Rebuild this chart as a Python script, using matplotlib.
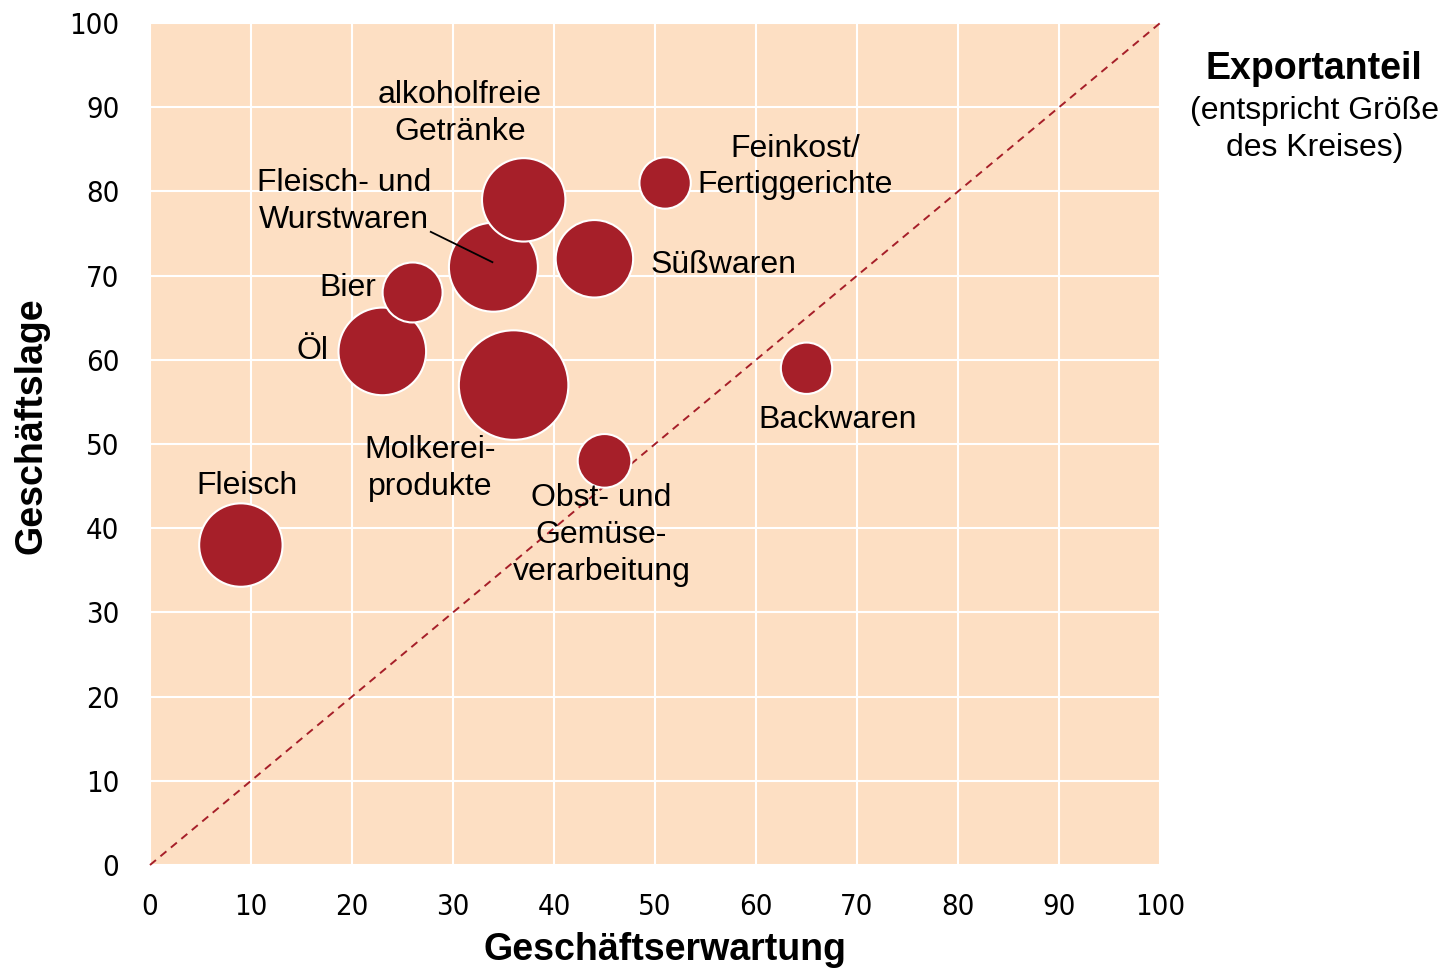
import matplotlib
matplotlib.use("Agg")
import matplotlib.pyplot as plt

# Branchen im Ernährungsgewerbe
branchen = ["Fleisch", "Öl", "Bier", "Fleisch- und Wurstwaren", "alkoholfreie Getränke",
            "Süßwaren", "Molkereiprodukte", "Feinkost/Fertiggerichte",
            "Obst- und Gemüseverarbeitung", "Backwaren"]
erwartung = [9, 23, 26, 34, 37, 44, 36, 51, 45, 65]
lage = [38, 61, 68, 71, 79, 72, 57, 81, 48, 59]
exportanteil = [29, 32, 15, 33, 29, 25, 50, 11, 12, 11]

# Beschriftungen (Text, x, y, Ausrichtung)
labels = [
    ("Fleisch", 9.6, 45.0, "center"),
    ("Öl", 17.7, 61.1, "right"),
    ("Bier", 22.4, 68.5, "right"),
    ("Fleisch- und\nWurstwaren", 19.2, 78.8, "center"),
    ("alkoholfreie\nGetränke", 30.7, 89.3, "center"),
    ("Süßwaren", 49.6, 71.3, "left"),
    ("Molkerei-\nprodukte", 27.7, 47.1, "center"),
    ("Feinkost/\nFertiggerichte", 63.9, 82.9, "center"),
    ("Obst- und\nGemüse-\nverarbeitung", 44.7, 39.2, "center"),
    ("Backwaren", 68.1, 52.8, "center"),
]

rot = "#A61F29"
hintergrund = "#FDDFC3"
schrift = ["Liberation Sans", "DejaVu Sans"]

fig = plt.figure(figsize=(14.49, 9.68), dpi=100)
ax = fig.add_axes([0.1035, 0.1064, 0.6971, 0.8698])
ax.set_facecolor(hintergrund)
ax.set_xlim(0, 100)
ax.set_ylim(0, 100)
ax.set_xticks(range(0, 101, 10))
ax.set_yticks(range(0, 101, 10))
ax.grid(True, color="white", linewidth=1.5)
ax.set_axisbelow(True)
for s in ax.spines.values():
    s.set_visible(False)
ax.tick_params(length=0, pad=22, labelsize=21)
ax.tick_params(axis="x", pad=20)
for t in ax.get_xticklabels() + ax.get_yticklabels():
    t.set_family("DejaVu Sans")
    t.set_fontstretch("condensed")

ax.plot([0, 100], [0, 100], ls=(0, (4, 3)), color=rot, lw=1.4, zorder=2, clip_on=False)

sizes = [v * 124.4 for v in exportanteil]
ax.scatter(erwartung, lage, s=sizes, color=rot, edgecolors="white", linewidths=1.5, zorder=3)

for text, x, y, ha in labels:
    ax.text(x, y, text, ha=ha, va="center", fontsize=23, family=schrift, zorder=4,
            linespacing=1.3)

ax.plot([27.8, 33.9], [75.2, 71.6], color="black", lw=1.3, zorder=4)

ax.set_xlabel("Geschäftserwartung", fontsize=27, fontweight="bold", family=schrift, labelpad=8)
ax.set_ylabel("Geschäftslage", fontsize=27, fontweight="bold", family=schrift, labelpad=14)
ax.xaxis.label.set_x(0.51)
ax.yaxis.label.set_y(0.522)

fig.text(0.907, 0.929, "Exportanteil", ha="center", va="center", fontsize=27,
         fontweight="bold", family=schrift)
fig.text(0.907, 0.866, "(entspricht Größe\ndes Kreises)", ha="center", va="center",
         fontsize=23, family=schrift, linespacing=1.28)

fig.savefig("out.png", dpi=100)
